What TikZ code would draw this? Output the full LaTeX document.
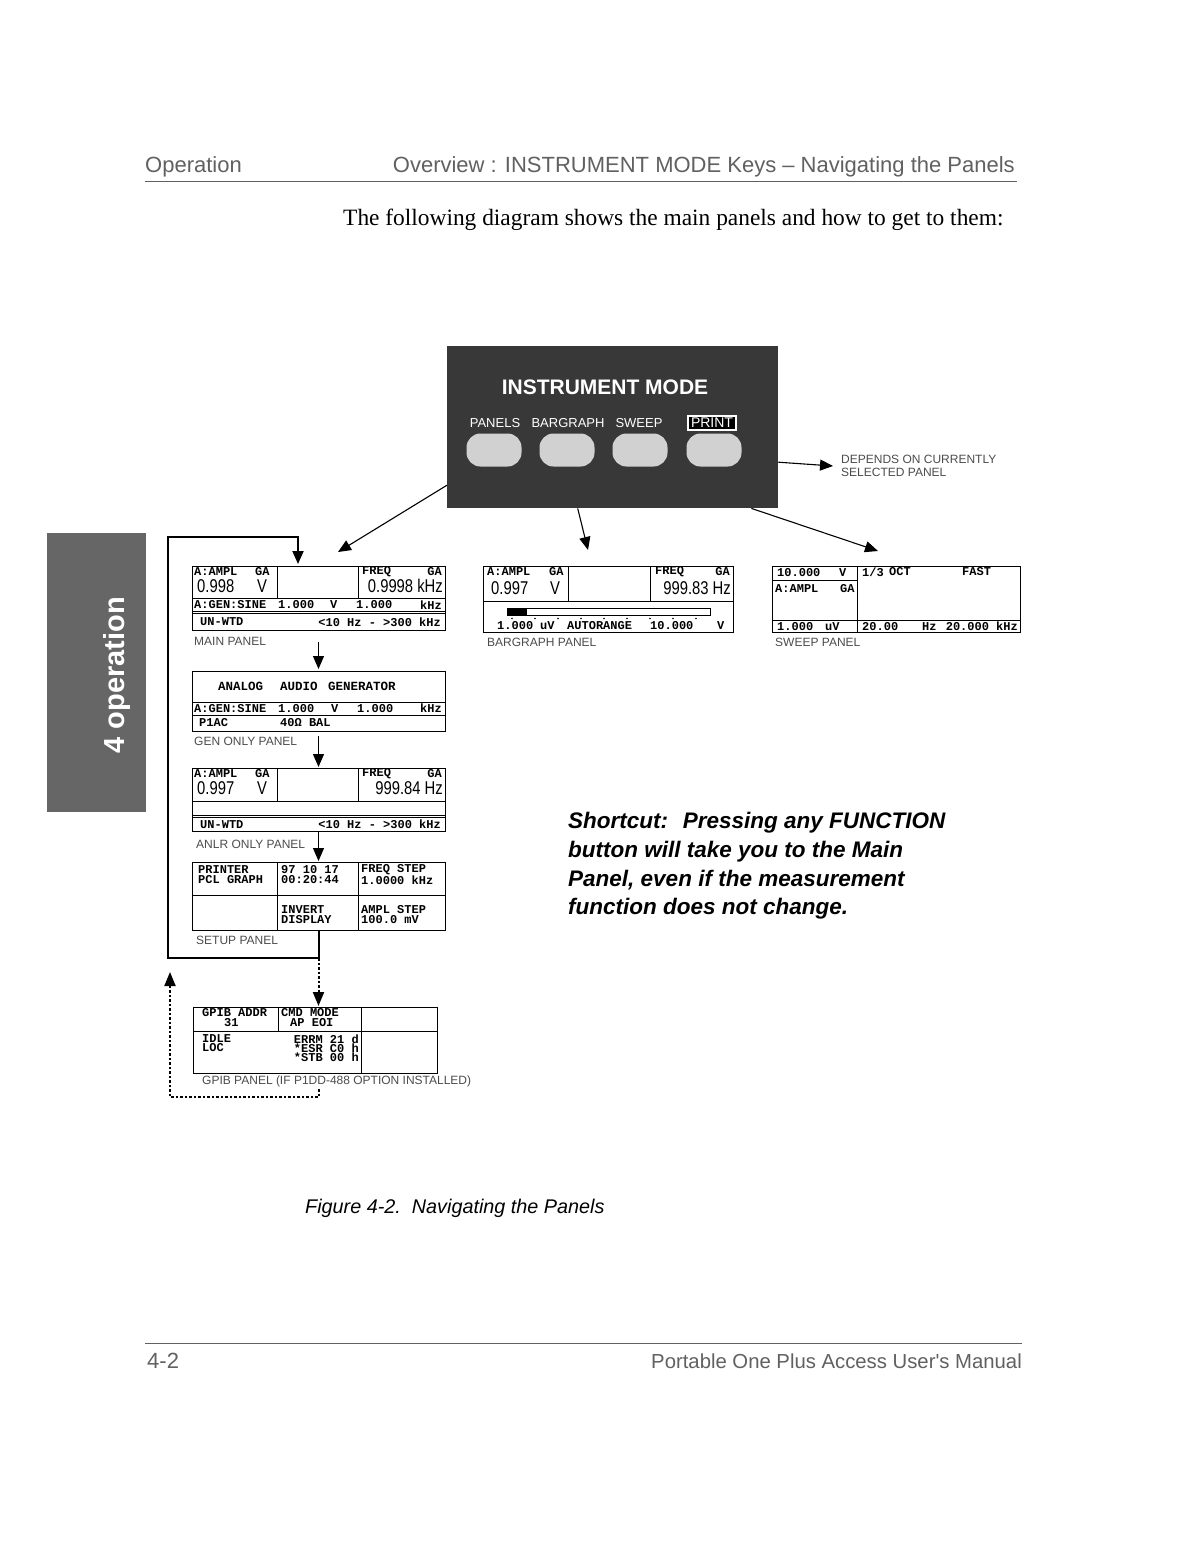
\documentclass[tikz,border=0pt]{standalone}
\usepackage{fontspec}
\usepackage{graphicx}
\usetikzlibrary{arrows.meta}
\setmainfont{Liberation Sans}
\newfontfamily\lsans{Liberation Sans}
\newfontfamily\lmono{Liberation Mono}
\newfontfamily\lserif{Liberation Serif}
\definecolor{hdrgray}{gray}{0.38}
\definecolor{labgray}{gray}{0.3}
\definecolor{panelgray}{gray}{0.22}
\definecolor{tabgray}{gray}{0.40}
\definecolor{btngray}{gray}{0.82}
\newcommand\lcdf{\lmono\bfseries\fontsize{12}{12}\selectfont}
\newcommand\lcdbig{\lmono\bfseries\fontsize{12.5}{13}\selectfont}
\newcommand\numf{\lsans\fontsize{18.5}{18}\selectfont}
\newcommand\bnum[1]{\scalebox{0.8}[1]{#1}}
\newcommand\labf{\lsans\fontsize{12}{13}\selectfont}
\newcommand\hdrf{\lsans\fontsize{22}{24}\selectfont}
\begin{document}
\begin{tikzpicture}[x=1pt,y=-1pt,
  panel/.style={draw, line width=0.9pt, anchor=north west, inner sep=0, outer sep=0},
  lcd/.style={font=\lcdf, anchor=west, inner sep=0},
  lcdB/.style={font=\lcdbig, anchor=west, inner sep=0},
  num/.style={font=\numf, anchor=west, inner sep=0},
  plabel/.style={font=\labf, text=labgray, anchor=west, inner sep=0},
  arr/.style={line width=1.1pt, -{Triangle[length=13pt,width=11pt]}},
  loopline/.style={line width=2pt, -{Triangle[length=13pt,width=11pt]}},
  dotline/.style={line width=2pt, dash pattern=on 2.5pt off 2pt},
  btn/.style={fill=btngray, minimum width=55, minimum height=33, rounded corners=14pt, inner sep=0},
  btnlbl/.style={font=\lsans\fontsize{13}{13}\selectfont, text=white, inner sep=0},
  thinl/.style={line width=0.9pt}
]
\useasboundingbox (0,0) rectangle (1176,1544);
\fill[white] (0,0) rectangle (1176,1544);

% ---------- header ----------
\node[anchor=base west, inner sep=0, font=\hdrf, text=hdrgray] (hl) at (145,172) {Operation};
\node[anchor=base east, inner sep=0, font=\hdrf, text=hdrgray] (hr) at (1015,172) {Overview : INSTRUMENT MODE Keys – Navigating the Panels};
\draw[hdrgray, line width=0.8pt] (145,181) -- (1017,181);
\node[anchor=base west, inner sep=0, font=\lserif\fontsize{23.4}{24}\selectfont] (intro) at (343,225) {The following diagram shows the main panels and how to get to them:};

% ---------- side tab ----------
\node[fill=tabgray, minimum width=99, minimum height=279, anchor=north west, inner sep=0] (tab) at (47,533) {};
\node[rotate=90, font=\lsans\bfseries\fontsize{29}{29}\selectfont, text=white, inner sep=0] (tabt) at (117,675) {4 operation};

% ---------- instrument mode panel ----------
\node[fill=panelgray, minimum width=331, minimum height=162, anchor=north west, inner sep=0] (im) at (447,346) {};
\node[font=\lsans\bfseries\fontsize{21}{21}\selectfont, text=white, inner sep=0] (imt) at (605,387) {INSTRUMENT MODE};
\node[btnlbl] (l1) at (495,423) {PANELS};
\node[btnlbl] (l2) at (568,423) {BARGRAPH};
\node[btnlbl] (l3) at (639,423) {SWEEP};
\node[btnlbl, draw=white, line width=1.5pt, inner xsep=3pt, inner ysep=2pt, fill=black, font=\lsans\fontsize{14}{14}\selectfont] (l4) at (712,423) {PRINT};
\node[btn] (b1) at (494,450) {};
\node[btn] (b2) at (567,450) {};
\node[btn] (b3) at (640,450) {};
\node[btn] (b4) at (714,450) {};

\node[anchor=west, font=\labf, text=labgray, align=left, inner sep=0] (dep) at (841,466) {DEPENDS ON CURRENTLY\\SELECTED PANEL};

% ---------- MAIN PANEL ----------
\node[panel, minimum width=253, minimum height=64] (main) at (192,566) {};
\draw[thinl] (192,598) -- (445,598);
\draw[thinl] (192,611) -- (445,611);
\draw[thinl] (192,613.5) -- (445,613.5);
\draw[thinl] (277,566) -- (277,598);
\draw[thinl] (358,566) -- (358,598);
\node[lcd] (m1) at (194,571.5) {A:AMPL};
\node[lcd] (m2) at (255,571.5) {GA};
\node[num] (m3) at (197,586) {\bnum{0.998}};
\node[num] (m4) at (257,586) {\bnum{V}};
\node[lcd] (m5) at (362,571.5) {FREQ};
\node[lcd, anchor=east] (m6) at (442,571.5) {GA};
\node[num, anchor=east] (m7) at (443,586) {\bnum{0.9998 kHz}};
\node[lcd] (m8) at (194,605) {A:GEN:SINE};
\node[lcd] (m9) at (278,605) {1.000};
\node[lcd] (m10) at (330,605) {V};
\node[lcd] (m11) at (356,605) {1.000};
\node[lcd, anchor=east] (m12) at (442,605) {kHz};
\node[lcd] (m13) at (200,622) {UN-WTD};
\node[lcd, anchor=east] (m14) at (441,622) {<10 Hz - >300 kHz};
\node[plabel] (mainl) at (194,641) {MAIN PANEL};

% ---------- GEN ONLY PANEL ----------
\node[panel, minimum width=253, minimum height=60] (gen) at (192,671) {};
\draw[thinl] (192,702) -- (445,702);
\draw[thinl] (192,715) -- (445,715);
\node[lcdB] (g1) at (218,686) {ANALOG};
\node[lcdB] (g2) at (280,686) {AUDIO};
\node[lcdB] (g3) at (328,686) {GENERATOR};
\node[lcd] (g4) at (194,708.5) {A:GEN:SINE};
\node[lcd] (g5) at (278,708.5) {1.000};
\node[lcd] (g6) at (331,708.5) {V};
\node[lcd] (g7) at (357,708.5) {1.000};
\node[lcd, anchor=east] (g8) at (442,708.5) {kHz};
\node[lcd] (g9) at (199,723) {P1AC};
\node[lcd] (g10) at (280,723) {40Ω BAL};
\node[plabel] (genl) at (194,741) {GEN ONLY PANEL};

% ---------- ANLR ONLY PANEL ----------
\node[panel, minimum width=253, minimum height=63] (anlr) at (192,768) {};
\draw[thinl] (192,801) -- (445,801);
\draw[thinl] (192,815) -- (445,815);
\draw[thinl] (192,817.5) -- (445,817.5);
\draw[thinl] (277,768) -- (277,801);
\draw[thinl] (358,768) -- (358,801);
\node[lcd] (a1) at (194,773.5) {A:AMPL};
\node[lcd] (a2) at (255,773.5) {GA};
\node[num] (a3) at (197,788) {\bnum{0.997}};
\node[num] (a4) at (257,788) {\bnum{V}};
\node[lcd] (a5) at (362,773.5) {FREQ};
\node[lcd, anchor=east] (a6) at (442,773.5) {GA};
\node[num, anchor=east] (a7) at (443,788) {\bnum{999.84 Hz}};
\node[lcd] (a8) at (200,824.5) {UN-WTD};
\node[lcd, anchor=east] (a9) at (441,824.5) {<10 Hz - >300 kHz};
\node[plabel] (anlrl) at (196,844) {ANLR ONLY PANEL};

% ---------- SETUP PANEL ----------
\node[panel, minimum width=253, minimum height=68] (setup) at (192,862) {};
\draw[thinl] (192,895) -- (445,895);
\draw[thinl] (277,862) -- (277,930);
\draw[thinl] (358,862) -- (358,930);
\node[lcd] (s1) at (198,870) {PRINTER};
\node[lcd] (s2) at (198,880) {PCL GRAPH};
\node[lcd] (s3) at (281,870) {97 10 17};
\node[lcd] (s4) at (281,880) {00:20:44};
\node[lcd] (s5) at (361,870) {FREQ STEP};
\node[lcd] (s6) at (361,880) {1.0000 kHz};
\node[lcd] (s7) at (281,910) {INVERT};
\node[lcd] (s8) at (281,920) {DISPLAY};
\node[lcd] (s9) at (361,910) {AMPL STEP};
\node[lcd] (s10) at (361,920) {100.0 mV};
\node[plabel] (setupl) at (196,940) {SETUP PANEL};

% ---------- GPIB PANEL ----------
\node[panel, minimum width=244, minimum height=66] (gpib) at (193,1007) {};
\draw[thinl] (193,1031) -- (437,1031);
\draw[thinl] (278,1007) -- (278,1031);
\draw[thinl] (361,1007) -- (361,1073);
\node[lcd] (p1) at (202,1012.5) {GPIB ADDR};
\node[lcd] (p2) at (224,1023) {31};
\node[lcd] (p3) at (281,1012.5) {CMD MODE};
\node[lcd] (p4) at (290,1023) {AP EOI};
\node[lcd] (p5) at (202,1039) {IDLE};
\node[lcd] (p6) at (202,1048) {LOC};
\node[lcd, anchor=east] (p7) at (359,1039) {ERRM 21 d};
\node[lcd, anchor=east] (p8) at (359,1048) {*ESR C0 h};
\node[lcd, anchor=east] (p9) at (359,1057) {*STB 00 h};
\node[plabel] (gpibl) at (202,1081) {GPIB PANEL (IF P1DD-488 OPTION INSTALLED)};

% ---------- BARGRAPH PANEL ----------
\node[panel, minimum width=250, minimum height=66] (bar) at (483,566) {};
\draw[thinl] (483,601) -- (733,601);
\draw[thinl] (568,566) -- (568,601);
\draw[thinl] (650,566) -- (650,601);
\node[lcd] (r1) at (487,572) {A:AMPL};
\node[lcd] (r2) at (549,572) {GA};
\node[num] (r3) at (491,588) {\bnum{0.997}};
\node[num] (r4) at (550,588) {\bnum{V}};
\node[lcd] (r5) at (655,572) {FREQ};
\node[lcd, anchor=east] (r6) at (730,572) {GA};
\node[num, anchor=east] (r7) at (731,588) {\bnum{999.83 Hz}};
\draw[line width=0.7pt] (507,608) rectangle (710,615);
\fill (507,608) rectangle (527,615);
\foreach \xx in {512,535,...,708} \fill (\xx,618.5) circle (0.8);
\node[lcd] (r8) at (497,625.5) {1.000};
\node[lcd] (r9) at (540,625.5) {uV};
\node[lcd] (r10) at (567,625.5) {AUTORANGE};
\node[lcd] (r11) at (650,625.5) {10.000};
\node[lcd] (r12) at (717,625.5) {V};
\node[plabel] (barl) at (487,642) {BARGRAPH PANEL};

% ---------- SWEEP PANEL ----------
\node[panel, minimum width=248, minimum height=66] (sweep) at (772,566) {};
\draw[thinl] (857,566) -- (857,632);
\draw[thinl] (772,580) -- (857,580);
\draw[thinl] (772,620) -- (1020,620);
\node[lcd] (w1) at (777,573) {10.000};
\node[lcd] (w2) at (839,573) {V};
\node[lcd] (w3) at (862,572) {1/3};
\node[lcd] (w4) at (889,572) {OCT};
\node[lcd] (w5) at (962,572) {FAST};
\node[lcd] (w6) at (775,589) {A:AMPL};
\node[lcd] (w7) at (840,589) {GA};
\node[lcd] (w8) at (777,626.5) {1.000};
\node[lcd] (w9) at (825,626.5) {uV};
\node[lcd] (w10) at (862,626.5) {20.00};
\node[lcd] (w11) at (922,626.5) {Hz};
\node[lcd, anchor=east] (w12) at (1018,626.5) {20.000 kHz};
\node[plabel] (sweepl) at (775,642) {SWEEP PANEL};

% ---------- connectors ----------
\draw[arr] ([yshift=-35pt]im.east) -- ([xshift=-8pt]dep.west);
\coordinate (mtip) at (338,552);
\draw[arr] ([yshift=-58pt]im.west) -- (mtip);
\draw[arr] ([xshift=-35pt]im.south) -- ([xshift=-20pt,yshift=16pt]bar.north);
\draw[arr] ([xshift=-27pt]im.south east) -- ([xshift=-18pt,yshift=15pt]sweep.north);

\draw[arr] ([yshift=-12pt]main.south) -- ([yshift=2pt]gen.north);
\draw[arr] ([yshift=-5pt]gen.south) -- ([yshift=1pt]anlr.north);
\draw[arr] (anlr.south) -- ([yshift=1pt]setup.north);

\coordinate (corner) at (318.5,958);
\draw[loopline] (setup.south) -- (corner) -- (168,958) -- (168,537) -- (298,537) -- ([xshift=-20.5pt,yshift=2pt]main.north);

\draw[dotline, -{Triangle[length=14pt,width=11pt]}] (corner) -- ([yshift=1pt]corner |- gpib.north);
\coordinate (gret) at (318.5,1089);
\coordinate (upt) at (170,972);
\draw[dotline, -{Triangle[length=14pt,width=11pt]}] (gret) -- (318.5,1097) -- (170,1097) -- (upt);

% ---------- shortcut ----------
\node[anchor=base west, inner sep=0, font=\lsans\bfseries\itshape\fontsize{22.5}{24}\selectfont] (sc1) at (568,828) {Shortcut: \ Pressing any FUNCTION};
\node[anchor=base west, inner sep=0, font=\lsans\bfseries\itshape\fontsize{22.5}{24}\selectfont] (sc2) at (568,857) {button will take you to the Main};
\node[anchor=base west, inner sep=0, font=\lsans\bfseries\itshape\fontsize{22.5}{24}\selectfont] (sc3) at (568,886) {Panel, even if the measurement};
\node[anchor=base west, inner sep=0, font=\lsans\bfseries\itshape\fontsize{22.5}{24}\selectfont] (sc4) at (568,914) {function does not change.};

% ---------- caption & footer ----------
\node[anchor=base west, inner sep=0, font=\lsans\itshape\fontsize{19.8}{20}\selectfont] (cap) at (305,1213) {Figure 4-2.\ \ Navigating the Panels};
\draw[hdrgray, line width=0.8pt] (145,1343) -- (1022,1343);
\node[anchor=base west, inner sep=0, font=\hdrf, text=hdrgray] (fl) at (147,1368) {4-2};
\node[anchor=base east, inner sep=0, font=\lsans\fontsize{20.3}{22}\selectfont, text=hdrgray] (fr) at (1022,1368) {Portable One Plus Access User's Manual};
\end{tikzpicture}
\end{document}
